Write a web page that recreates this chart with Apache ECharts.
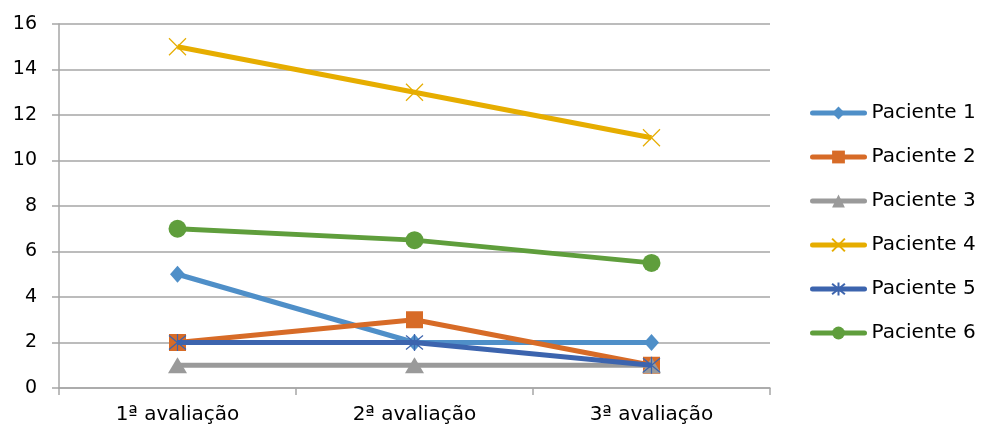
<!DOCTYPE html>
<html>
<head>
<meta charset="utf-8">
<script src="https://cdn.jsdelivr.net/npm/echarts@6/dist/echarts.min.js"></script>
<style>html,body{margin:0;padding:0;background:#fff}#c{width:984px;height:430px}</style>
</head>
<body>
<div id="c"></div>
<script>
const categories = ['1ª avaliação', '2ª avaliação', '3ª avaliação'];
const seriesNames = ['Paciente 1', 'Paciente 2', 'Paciente 3', 'Paciente 4', 'Paciente 5', 'Paciente 6'];
const paciente1 = [5, 2, 2];
const paciente2 = [2, 3, 1];
const paciente3 = [1, 1, 1];
const paciente4 = [15, 13, 11];
const paciente5 = [2, 2, 1];
const paciente6 = [7, 6.5, 5.5];
const yTicks = [0, 2, 4, 6, 8, 10, 12, 14, 16];

const colors = ['#4f8fc8', '#d76b27', '#9a9a9a', '#e6ad00', '#3c64ae', '#5f9e3c'];
const font = 'DejaVu Sans';
const xPath = 'path://M0 0L10 10M10 0L0 10';
const starPath = 'path://M0 0L10 10M10 0L0 10M5 -1L5 11';

function mk(i, data, symbol, size, strokeSym) {
  const s = {
    name: seriesNames[i], type: 'line', data: data,
    symbol: symbol, symbolSize: size,
    lineStyle: { color: colors[i], width: 5 },
    itemStyle: { color: colors[i] },
    z: 2 + i
  };
  if (strokeSym) {
    s.itemStyle = { color: 'rgba(0,0,0,0)', borderColor: colors[i], borderWidth: 1.2 };
  }
  return s;
}

const chart = echarts.init(document.getElementById('c'), null, { renderer: 'canvas' });
chart.setOption({
  animation: false,
  textStyle: { fontFamily: font },
  grid: { left: 59, right: 214, top: 24, bottom: 42 },
  legend: {
    orient: 'vertical', left: 805, top: 98,
    itemWidth: 52, itemHeight: 16, itemGap: 24,
    lineStyle: { width: 5, cap: 'round' },
    textStyle: { fontFamily: font, fontSize: 20, color: '#000', padding: [0, 0, 0, 2] },
    data: seriesNames
  },
  xAxis: {
    type: 'category', data: categories, boundaryGap: true,
    axisLine: { lineStyle: { color: '#a6a6a6', width: 1.5 } },
    axisTick: { show: true, length: 7, lineStyle: { color: '#a6a6a6', width: 1.5 } },
    axisLabel: { fontFamily: font, fontSize: 20, color: '#000', margin: 17 }
  },
  yAxis: {
    type: 'value', min: 0, max: 16, interval: 2,
    axisLine: { show: true, lineStyle: { color: '#a6a6a6', width: 1.5 } },
    axisTick: { show: true, length: 7, lineStyle: { color: '#a6a6a6', width: 1.5 } },
    splitLine: { lineStyle: { color: '#a6a6a6', width: 1.5 } },
    axisLabel: { fontFamily: font, fontSize: 19, color: '#000', margin: 22,
      formatter: v => yTicks.includes(v) ? String(v) : '' }
  },
  series: [
    mk(0, paciente1, 'diamond', [15, 17]),
    mk(1, paciente2, 'rect', 17),
    mk(2, paciente3, 'triangle', [19, 16]),
    mk(3, paciente4, xPath, 17, true),
    mk(4, paciente5, starPath, 17, true),
    mk(5, paciente6, 'circle', 18)
  ]
});
</script>
</body>
</html>
